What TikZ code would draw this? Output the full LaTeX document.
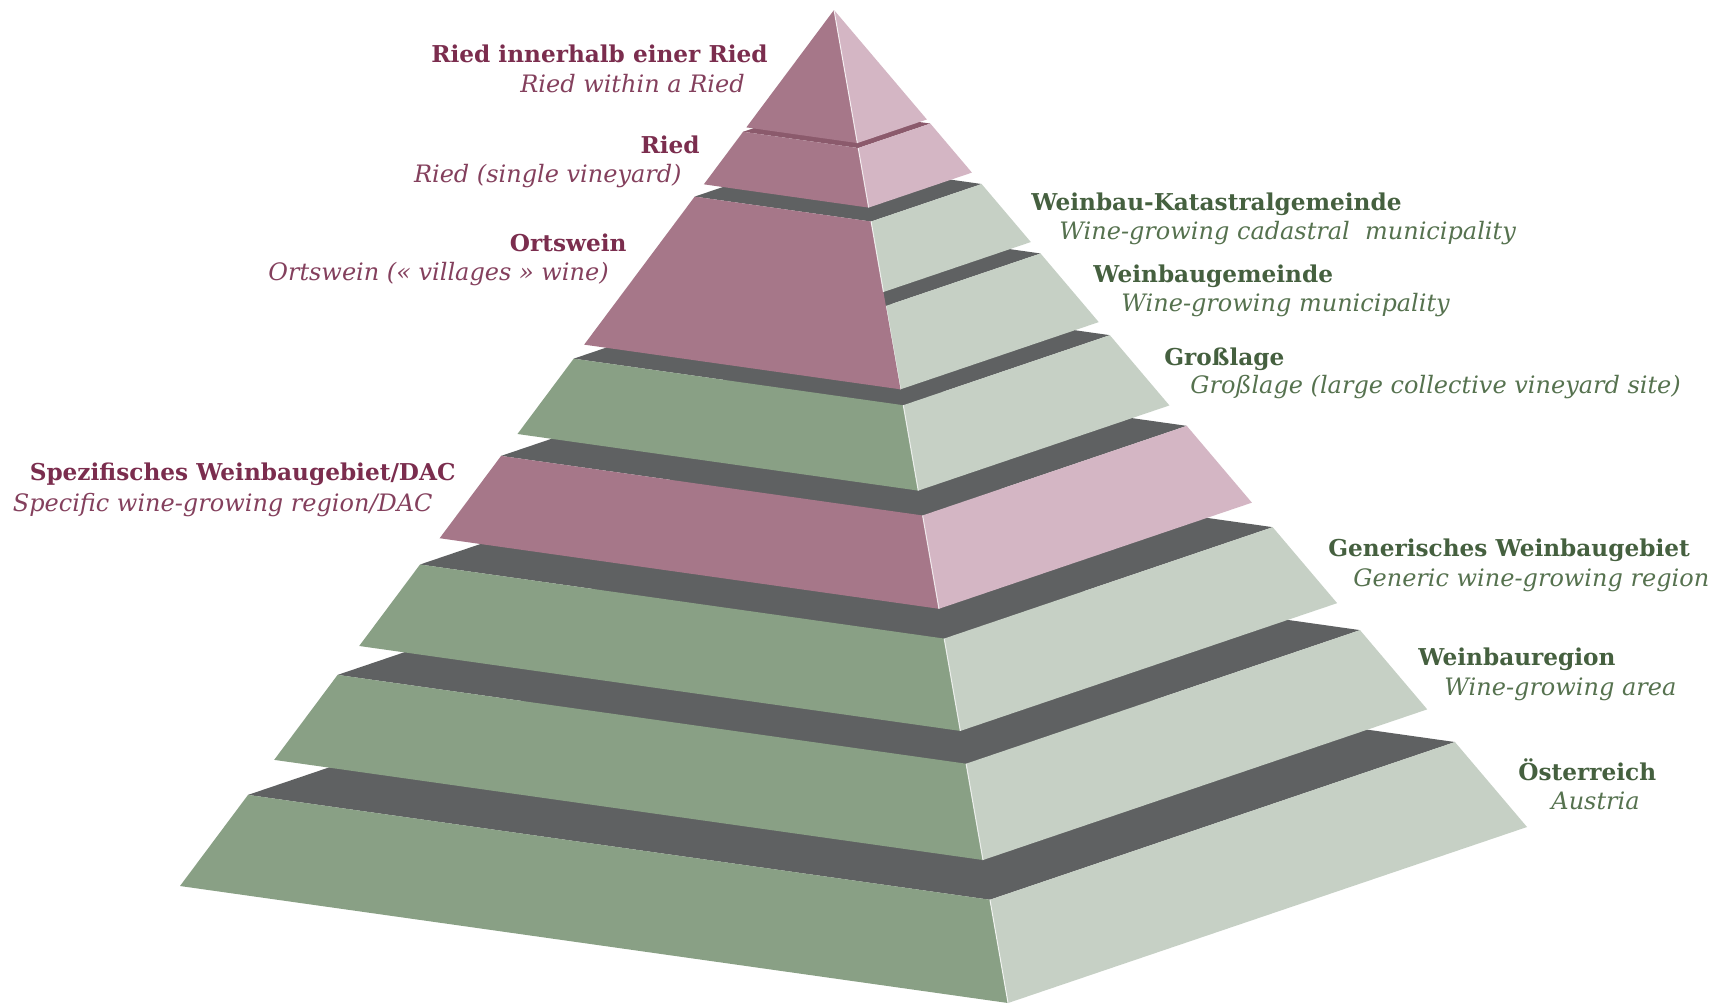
\documentclass[tikz,border=0pt]{standalone}
\usepackage{fontspec}
\setmainfont{DejaVu Serif}
\usetikzlibrary{calc}

\definecolor{pinkleft}{HTML}{A67789}
\definecolor{pinkright}{HTML}{D4B6C4}
\definecolor{grnleft}{HTML}{89A085}
\definecolor{grnright}{HTML}{C6D0C5}
\definecolor{band}{HTML}{5F6162}
\definecolor{pinktop}{HTML}{8B5A6C}
\definecolor{wine}{HTML}{7B2D4E}
\definecolor{winelight}{HTML}{84405D}
\definecolor{leaf}{HTML}{45603F}
\definecolor{leaflight}{HTML}{56724F}

\tikzset{
  leftname/.style={anchor=base east, inner sep=0pt, text=wine,
    font=\fontsize{11.6}{14}\selectfont\bfseries},
  leftsub/.style={anchor=base east, inner sep=0pt, text=winelight,
    font=\fontsize{12}{14}\selectfont\itshape},
  rightname/.style={anchor=base west, inner sep=0pt, text=leaf,
    font=\fontsize{11.6}{14}\selectfont\bfseries},
  rightsub/.style={anchor=base west, inner sep=0pt, text=leaflight,
    font=\fontsize{12}{14}\selectfont\itshape},
  ridge/.style={white, line width=0.5pt, opacity=0.8}
}

\begin{document}
\begin{tikzpicture}[x=0.5pt,y=-0.5pt]
\fill[white] (0,0) rectangle (1733,1007);
\useasboundingbox (0,0) rectangle (1733,1007);

\coordinate (A) at (834,10);
\coordinate (L) at (180,886);
\coordinate (F) at (1008,1003);
\coordinate (R) at (1527,827);
\coordinate (B) at ($(L)+(R)-(F)$);

% slabs from the base up: top / left bottom / right bottom / left, right, top colour
\foreach \t/\bl/\br/\cl/\cr/\ct in {
  0.896/1/1/grnleft/grnright/band,
  0.759/0.856/0.856/grnleft/grnright/band,
  0.633/0.726/0.726/grnleft/grnright/band,
  0.509/0.603/0.603/pinkleft/pinkright/band,
  0.398/0.484/0.484/grnleft/grnright/band,
  0.298/0.382/0.382/none/grnright/band,
  0.213/0.382/0.284/pinkleft/grnright/band,
  0.139/0.199/0.199/pinkleft/pinkright/pinktop,
  0/0.134/0.134/pinkleft/pinkright/none}
{
  \fill[fill=\ct] ($(A)!\t!(L)$) -- ($(A)!\t!(F)$) -- ($(A)!\t!(R)$) -- ($(A)!\t!(B)$) -- cycle;
  \fill[fill=\cl] ($(A)!\t!(L)$) -- ($(A)!\t!(F)$) -- ($(A)!\bl!(F)$) -- ($(A)!\bl!(L)$) -- cycle;
  \fill[fill=\cr] ($(A)!\t!(F)$) -- ($(A)!\t!(R)$) -- ($(A)!\br!(R)$) -- ($(A)!\br!(F)$) -- cycle;
  \draw[ridge] ($(A)!\t!(F)$) -- ($(A)!\br!(F)$);
}

% labels, left side
\node[leftname] (riedinnerB) at (768,62) {Ried innerhalb einer Ried};
\node[leftsub] (riedinnerI) at (745,92) {Ried within a Ried};
\node[leftname] (riedB) at (700,153) {Ried};
\node[leftsub] (riedI) at (682,182) {Ried (single vineyard)};
\node[leftname] (ortB) at (627,251) {Ortswein};
\node[leftsub] (ortI) at (609,280) {Ortswein (« villages » wine)};
\node[leftname] (spezB) at (456,480) {Spezifisches Weinbaugebiet/DAC};
\node[leftsub] (spezI) at (433,511) {Specific wine-growing region/DAC};

% labels, right side
\node[rightname] (katB) at (1031,210) {Weinbau-Katastralgemeinde};
\node[rightsub] (katI) at (1059,239) {Wine-growing cadastral~ municipality};
\node[rightname] (gemB) at (1093,282) {Weinbaugemeinde};
\node[rightsub] (gemI) at (1121,311) {Wine-growing municipality};
\node[rightname] (grossB) at (1164,365) {Großlage};
\node[rightsub] (grossI) at (1190,393) {Großlage (large collective vineyard site)};
\node[rightname] (genB) at (1328,556) {Generisches Weinbaugebiet};
\node[rightsub] (genI) at (1353,586) {Generic wine-growing region};
\node[rightname] (regB) at (1418,665) {Weinbauregion};
\node[rightsub] (regI) at (1444,695) {Wine-growing area};
\node[rightname] (oestB) at (1518,780) {Österreich};
\node[rightsub] (oestI) at (1551,809) {Austria};
\end{tikzpicture}
\end{document}
